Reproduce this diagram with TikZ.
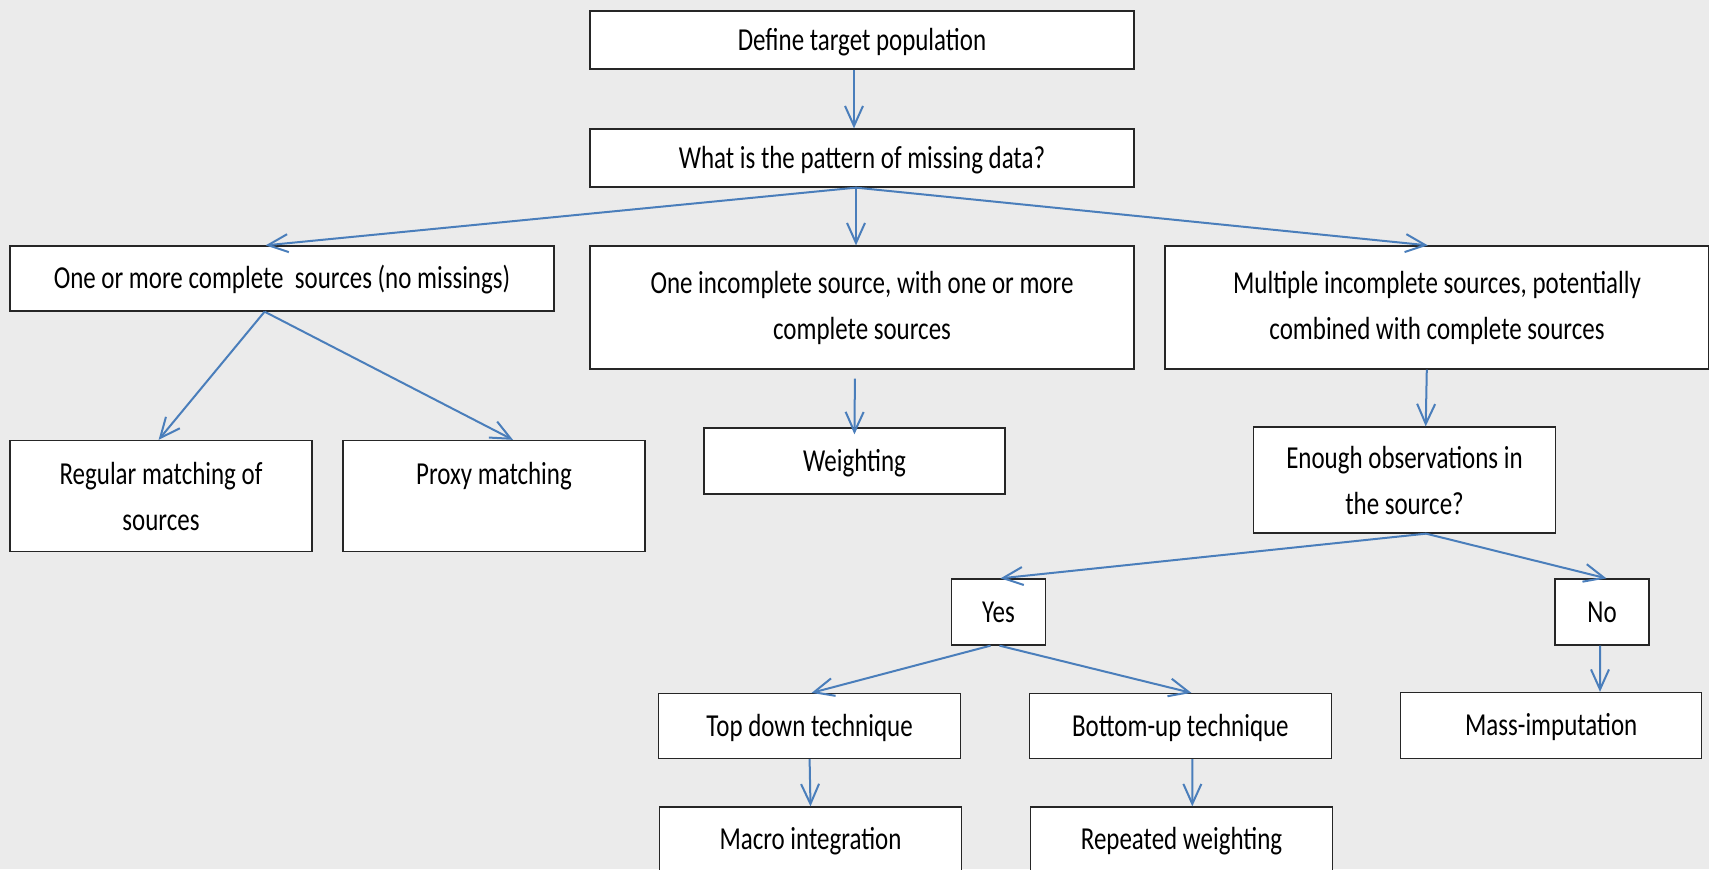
\documentclass[tikz,border=0pt]{standalone}
\usepackage{fontspec}
\setmainfont{Carlito}[FakeStretch=0.78]
\usetikzlibrary{arrows.meta}

\definecolor{bgcol}{RGB}{235,235,235}
\definecolor{arrowblue}{RGB}{74,126,187}

\tikzset{
    box/.style={draw=black!85, fill=white, line width=0.65pt, inner sep=0pt,
        align=center, font=\fontsize{16}{23}\selectfont},
    single/.style={box, text height=15pt, text depth=5pt},
    arr/.style={draw=arrowblue, line width=1pt, -{Straight Barb[length=10pt,width=9pt]}}
}

\begin{document}
\begin{tikzpicture}[x=0.5pt,y=-0.5pt]
            % Draw the background
            \clip (0,0) rectangle (1709,869);
            \fill[bgcol] (0,0) rectangle (1709,869);

            % Draw the first two questions
            \node[single, minimum width=272pt, minimum height=29pt] (define) at (862,40) {Define target population};
            \node[single, minimum width=272pt, minimum height=29pt] (pattern) at (862,158) {What is the pattern of missing data?};

            % Draw the three patterns
            \node[single, minimum width=272pt, minimum height=32.5pt] (complete) at (282,278.5) {One or more complete~ sources (no missings)};
            \node[box, minimum width=272pt, minimum height=61.5pt] (oneinc) at (862,307.5) {One incomplete source, with one or more\\complete sources};
            \node[box, minimum width=272pt, minimum height=61.5pt] (multi) at (1437,307.5) {Multiple incomplete sources, potentially\\combined with complete sources};

            % Draw the methods under the patterns
            \node[box, minimum width=151pt, minimum height=55.5pt] (regular) at (161,496) {Regular matching of\\sources};
            \node[box, minimum width=151pt, minimum height=55.5pt] (proxy) at (494,496) {Proxy matching\\\phantom{sources}};
            \node[single, minimum width=150.5pt, minimum height=33pt] (weighting) at (854.5,461) {Weighting};
            \node[box, minimum width=151pt, minimum height=53pt] (enough) at (1404.5,480) {Enough observations in\\the source?};

            % Draw the answers
            \node[single, minimum width=47pt, minimum height=33pt] (yes) at (998.5,612) {Yes};
            \node[single, minimum width=47pt, minimum height=33pt] (no) at (1602,612) {No};

            \node[single, minimum width=151pt, minimum height=32.5pt] (topdown) at (809.6,726) {Top down technique};
            \node[single, minimum width=151pt, minimum height=32.5pt] (bottomup) at (1180.4,726) {Bottom-up technique};
            \node[single, minimum width=150.5pt, minimum height=33pt] (mass) at (1551.2,725.5) {Mass-imputation};

            \node[single, minimum width=151pt, minimum height=32.5pt] (macro) at (810.5,839.5) {Macro integration};
            \node[single, minimum width=151pt, minimum height=32.5pt] (repeated) at (1181.5,839.5) {Repeated weighting};

            % Draw the arrows
            \draw[arr] ([xshift=-4pt]define.south) -- ([xshift=-4pt]pattern.north);
            \draw[arr] ([xshift=-3pt]pattern.south) -- ([xshift=-8.2pt]complete.north);
            \draw[arr] ([xshift=-3pt]pattern.south) -- ([xshift=-3pt]oneinc.north);
            \draw[arr] ([xshift=-3pt]pattern.south) -- ([xshift=-4.6pt]multi.north);

            \draw[arr] ([xshift=-8.7pt]complete.south) -- ([xshift=-1.2pt]regular.north);
            \draw[arr] ([xshift=-8.7pt]complete.south) -- ([xshift=9.5pt]proxy.north);
            \draw[arr, shorten <=4.5pt, shorten >=-3.5pt] ([xshift=-3.5pt]oneinc.south) -- (weighting.north);
            \draw[arr] ([xshift=-5.1pt]multi.south) -- ([xshift=10.6pt]enough.north);

            \draw[arr] ([xshift=10.8pt]enough.south) -- ([xshift=1pt]yes.north);
            \draw[arr] ([xshift=10.8pt]enough.south) -- ([xshift=2.2pt]no.north);

            \draw[arr] ([xshift=-4pt]yes.south) -- ([xshift=1pt]topdown.north);
            \draw[arr] ([xshift=0.5pt]yes.south) -- ([xshift=5.5pt]bottomup.north);
            \draw[arr] ([xshift=-1pt]no.south) -- ([xshift=24.4pt]mass.north);

            \draw[arr] (topdown.south) -- (macro.north);
            \draw[arr] ([xshift=6pt]bottomup.south) -- ([xshift=5.4pt]repeated.north);
\end{tikzpicture}
\end{document}
